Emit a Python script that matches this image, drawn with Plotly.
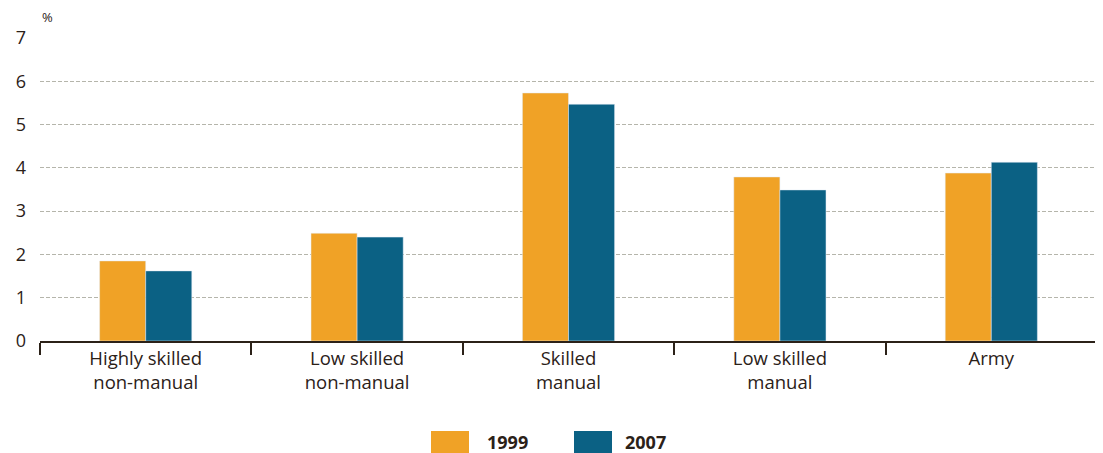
import plotly.graph_objects as go

categories = ["Highly skilled<br>non-manual", "Low skilled<br>non-manual", "Skilled<br>manual", "Low skilled<br>manual", "Army"]
values_1999 = [1.85, 2.49, 5.73, 3.79, 3.88]
values_2007 = [1.62, 2.40, 5.47, 3.49, 4.13]
series_names = ["1999", "2007"]
colors = ["#F0A226", "#0B6184"]
text_color = "#2B2118"
font_family = "Open Sans, Noto Sans, sans-serif"

fig = go.Figure()
fig.add_trace(go.Bar(x=categories, y=values_1999, name=series_names[0], marker_color=colors[0], showlegend=False))
fig.add_trace(go.Bar(x=categories, y=values_2007, name=series_names[1], marker_color=colors[1], showlegend=False))

# page body has an 8px default margin; compensate
OFF = 8
W, H = 1103 - OFF, 453 - OFF
ml, mr, mt, mb = 40 - OFF, 6, 38 - OFF, 112

fig.update_layout(
    width=W, height=H,
    margin=dict(l=ml, r=mr, t=mt, b=mb, autoexpand=False),
    barmode="group", bargap=0.564, bargroupgap=0,
    plot_bgcolor="white", paper_bgcolor="white",
    font=dict(family=font_family, color=text_color, size=18),
)
fig.update_xaxes(
    showline=True, linecolor="#2B2118", linewidth=2,
    ticks="outside", tickson="boundaries", ticklen=12, tickcolor="#2B2118", tickwidth=1.5,
    tickfont=dict(size=18.5, color=text_color), showgrid=False, automargin=False,
)
fig.update_yaxes(
    range=[0, 7], dtick=1, showline=False, zeroline=False,
    showgrid=True, gridcolor="#b5b5ab", griddash="4px,2px", gridwidth=1,
    tickfont=dict(size=18, color=text_color), ticks="", ticklabelstandoff=13, automargin=False,
)

# % unit label
fig.add_annotation(text="%", x=0, y=1.0, xref="paper", yref="paper", xanchor="left", yanchor="bottom",
                   yshift=10, showarrow=False, font=dict(size=13, color=text_color))

# custom legend (positions in window pixels)
pw = W - ml - mr
ph = H - mt - mb
def px_to_paper_x(px):
    return (px - OFF - ml) / pw
def px_to_paper_y(py):
    return (H - mb - (py - OFF)) / ph

legend_items = [(431, 485), (574, 623)]
for (sx, tx), name, col in zip(legend_items, series_names, colors):
    fig.add_shape(type="rect", xref="paper", yref="paper",
                  x0=px_to_paper_x(sx), x1=px_to_paper_x(sx + 38),
                  y0=px_to_paper_y(453), y1=px_to_paper_y(431),
                  fillcolor=col, line=dict(width=0))
    fig.add_annotation(text="<b>%s</b>" % name, xref="paper", yref="paper",
                       x=px_to_paper_x(tx), y=px_to_paper_y(442), xanchor="left", yanchor="middle",
                       showarrow=False, font=dict(size=18, color=text_color))

fig.write_html("out.html")
